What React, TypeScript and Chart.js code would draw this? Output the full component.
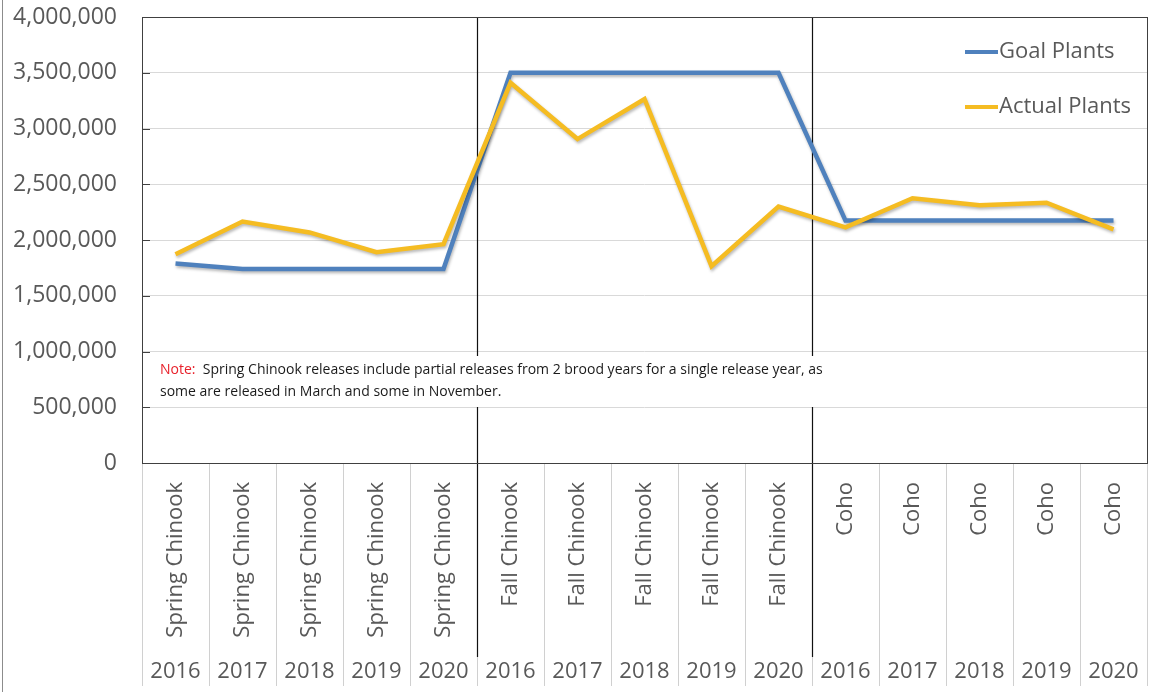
import React, { useEffect, useRef } from "react";
import { Chart, registerables } from "chart.js";

Chart.register(...registerables);

const categories = [
  "Spring Chinook", "Spring Chinook", "Spring Chinook", "Spring Chinook", "Spring Chinook",
  "Fall Chinook", "Fall Chinook", "Fall Chinook", "Fall Chinook", "Fall Chinook",
  "Coho", "Coho", "Coho", "Coho", "Coho",
];
const years = [
  "2016", "2017", "2018", "2019", "2020",
  "2016", "2017", "2018", "2019", "2020",
  "2016", "2017", "2018", "2019", "2020",
];
const goalPlants = [
  1790000, 1740000, 1740000, 1740000, 1740000,
  3500000, 3500000, 3500000, 3500000, 3500000,
  2174000, 2174000, 2174000, 2174000, 2174000,
];
const actualPlants = [
  1872000, 2165000, 2068000, 1890000, 1962000,
  3410000, 2905000, 3265000, 1766000, 2300000,
  2114000, 2375000, 2312000, 2335000, 2096000,
];
const yMin = 0;
const yMax = 4000000;
const yStep = 500000;
const groupBreaks = [5, 10];
const noteLabel = "Note:";
const noteLines = [
  "Spring Chinook releases include partial releases from 2 brood years for a single release year, as",
  "some are released in March and some in November.",
];

const FONT = "'Open Sans', sans-serif";
const GREY_TEXT = "#595959";

const decorPlugin = {
  id: "decor",
  beforeDatasetsDraw(chart: any) {
    const { ctx, chartArea } = chart;
    const x = chart.scales.x;
    const y = chart.scales.y;
    const h = chart.height;
    ctx.save();
    // frame line at left edge of picture
    ctx.strokeStyle = "#8c8c8c";
    ctx.lineWidth = 1;
    ctx.beginPath();
    ctx.moveTo(2.5, 0);
    ctx.lineTo(2.5, h);
    ctx.stroke();

    // small inside tick marks on y axis
    ctx.strokeStyle = "#404040";
    for (let v = yMin; v <= yMax; v += yStep) {
      const py = Math.round(y.getPixelForValue(v)) + 0.5;
      ctx.beginPath();
      ctx.moveTo(chartArea.left, py);
      ctx.lineTo(chartArea.left + 8, py);
      ctx.stroke();
    }

    // category boundaries in label area
    const n = categories.length;
    const step = (chartArea.right - chartArea.left) / n;
    ctx.strokeStyle = "#d0d0d0";
    for (let i = 0; i <= n; i++) {
      const bx = Math.round(x.getPixelForValue(i) - step / 2) + 0.5;
      ctx.beginPath();
      ctx.moveTo(bx, chartArea.bottom);
      ctx.lineTo(bx, h - 6);
      ctx.stroke();
    }

    // group separators
    ctx.strokeStyle = "#111111";
    ctx.lineWidth = 1.2;
    groupBreaks.forEach((b) => {
      const bx = Math.round(x.getPixelForValue(b) - step / 2) + 0.5;
      ctx.beginPath();
      ctx.moveTo(bx, chartArea.top);
      ctx.lineTo(bx, 657);
      ctx.stroke();
    });

    // plot border
    ctx.strokeStyle = "#404040";
    ctx.lineWidth = 1;
    ctx.strokeRect(
      Math.round(chartArea.left) + 0.5,
      Math.round(chartArea.top) + 0.5,
      Math.round(chartArea.right - chartArea.left),
      Math.round(chartArea.bottom - chartArea.top)
    );

    // category labels (rotated) and years
    ctx.fillStyle = GREY_TEXT;
    ctx.font = `22px ${FONT}`;
    for (let i = 0; i < n; i++) {
      const cx = x.getPixelForValue(i);
      ctx.save();
      ctx.translate(cx, chartArea.bottom + 19);
      ctx.rotate(-Math.PI / 2);
      ctx.textAlign = "right";
      ctx.textBaseline = "middle";
      ctx.fillText(categories[i], 0, 0);
      ctx.restore();
      ctx.textAlign = "center";
      ctx.textBaseline = "middle";
      ctx.fillText(years[i], cx, 672);
    }

    // shadow for lines
    ctx.restore();
    ctx.save();
    ctx.shadowColor = "rgba(0,0,0,0.28)";
    ctx.shadowBlur = 3;
    ctx.shadowOffsetX = 1;
    ctx.shadowOffsetY = 2;
  },
  afterDatasetsDraw(chart: any) {
    const { ctx } = chart;
    ctx.restore();
    ctx.save();
    // legend
    const items = chart.data.datasets;
    const legendY = [52, 107];
    items.forEach((ds: any, i: number) => {
      const ly = legendY[i];
      ctx.strokeStyle = ds.borderColor;
      ctx.lineWidth = 4;
      ctx.beginPath();
      ctx.moveTo(965, ly);
      ctx.lineTo(998, ly);
      ctx.stroke();
      ctx.fillStyle = GREY_TEXT;
      ctx.font = `22px ${FONT}`;
      ctx.textAlign = "left";
      ctx.textBaseline = "middle";
      ctx.fillText(ds.label, 999, ly);
    });

    // note box
    ctx.fillStyle = "#ffffff";
    ctx.fillRect(150, 356, 695, 51);
    ctx.font = `14px ${FONT}`;
    ctx.textBaseline = "middle";
    ctx.textAlign = "left";
    ctx.fillStyle = "#e8212b";
    ctx.fillText(noteLabel, 160, 370);
    const w = ctx.measureText(noteLabel + "  ").width;
    ctx.fillStyle = "#1a1a1a";
    ctx.fillText(noteLines[0], 160 + w, 370);
    ctx.fillText(noteLines[1], 160, 392);
    ctx.restore();
  },
};

export default function App() {
  const canvasRef = useRef<HTMLCanvasElement | null>(null);

  useEffect(() => {
    if (!canvasRef.current) return;
    const chart = new Chart(canvasRef.current, {
      type: "line",
      data: {
        labels: categories.map((c, i) => `${c} ${years[i]}`),
        datasets: [
          {
            label: "Goal Plants",
            data: goalPlants,
            borderColor: "#4f81bd",
            backgroundColor: "#4f81bd",
            borderWidth: 4.5,
            pointRadius: 0,
            tension: 0,
            order: 2,
          },
          {
            label: "Actual Plants",
            data: actualPlants,
            borderColor: "#f5bc22",
            backgroundColor: "#f5bc22",
            borderWidth: 4.5,
            pointRadius: 0,
            tension: 0,
            order: 1,
          },
        ],
      },
      options: {
        animation: false,
        responsive: true,
        maintainAspectRatio: false,
        layout: { padding: { top: 17, right: 5, bottom: 229, left: 0 } },
        plugins: {
          legend: { display: false },
          tooltip: { enabled: false },
        },
        scales: {
          x: {
            type: "category",
            display: false,
            offset: true,
          },
          y: {
            min: yMin,
            max: yMax,
            afterFit: (scale: any) => {
              scale.width = 142;
              scale.paddingTop = 0;
              scale.paddingBottom = 0;
            },
            ticks: {
              stepSize: yStep,
              padding: 25,
              color: GREY_TEXT,
              font: { family: FONT, size: 23 },
              callback: (v: any) => Number(v).toLocaleString("en-US"),
            },
            grid: { color: "#d9d9d9", drawTicks: false },
            border: { display: false },
          },
        },
      },
      plugins: [decorPlugin],
    });
    return () => chart.destroy();
  }, []);

  return (
    <div style={{ position: "absolute", left: 0, top: 0, width: 1152, height: 692, background: "#ffffff" }}>
      <canvas ref={canvasRef} />
    </div>
  );
}
